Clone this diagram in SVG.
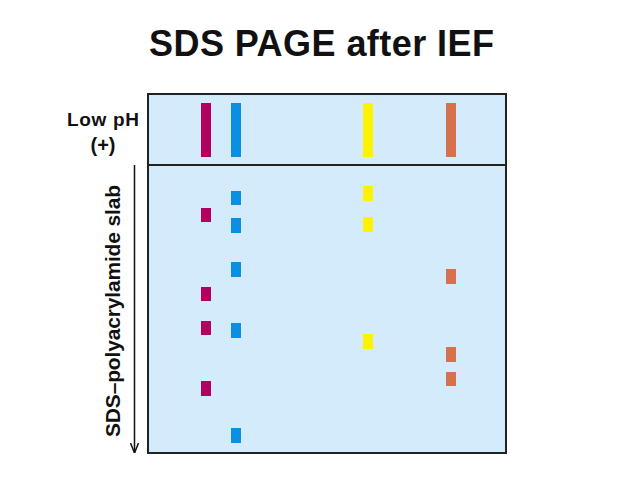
<svg xmlns="http://www.w3.org/2000/svg" width="638" height="479" viewBox="0 0 638 479">
<defs>
<style>
.t{font-family:"Liberation Sans",Arial,sans-serif;font-weight:bold;fill:#111}
.m{fill:#b1005e}
.b{fill:#0b8fe2}
.y{fill:#fff100}
.o{fill:#d8704f}
.frame{fill:#d3ebfb;stroke:#222;stroke-width:2}
</style>
<marker id="ah" viewBox="0 0 10 10" refX="10" refY="5" markerWidth="10" markerHeight="10" markerUnits="userSpaceOnUse" orient="auto">
<path d="M0,1 L10,5 L0,9" fill="none" stroke="#111" stroke-width="1.5"/>
</marker>
</defs>
<rect width="638" height="479" fill="#fff"/>
<g id="title">
<text class="t" x="321.5" y="56" font-size="36" text-anchor="middle" textLength="345">SDS PAGE after IEF</text>
</g>
<g id="gel">
<rect class="frame" x="148" y="94" width="358" height="359"/>
<line x1="148" y1="165" x2="506" y2="165" stroke="#222" stroke-width="2"/>
</g>
<g id="ief-strip">
<rect class="m" x="201" y="103" width="10" height="54"/>
<rect class="b" x="231" y="103" width="10" height="54"/>
<rect class="y" x="363" y="103" width="10" height="54"/>
<rect class="o" x="446" y="103" width="10" height="54"/>
</g>
<g id="bands-magenta">
<rect class="m" x="201" y="208" width="10" height="14"/>
<rect class="m" x="201" y="287" width="10" height="14"/>
<rect class="m" x="201" y="321" width="10" height="14"/>
<rect class="m" x="201" y="381" width="10" height="15"/>
</g>
<g id="bands-blue">
<rect class="b" x="231" y="191" width="10" height="14"/>
<rect class="b" x="231" y="218" width="10" height="15"/>
<rect class="b" x="231" y="262" width="10" height="15"/>
<rect class="b" x="231" y="323" width="10" height="15"/>
<rect class="b" x="231" y="428" width="10" height="15"/>
</g>
<g id="bands-yellow">
<rect class="y" x="363" y="186" width="10" height="15"/>
<rect class="y" x="363" y="217" width="10" height="15"/>
<rect class="y" x="363" y="334" width="10" height="15"/>
</g>
<g id="bands-orange">
<rect class="o" x="446" y="269" width="10" height="15"/>
<rect class="o" x="446" y="347" width="10" height="15"/>
<rect class="o" x="446" y="372" width="10" height="14"/>
</g>
<g id="label-lowph">
<text class="t" x="103" y="126" font-size="19" text-anchor="middle" textLength="72">Low pH</text>
<text class="t" x="103" y="152" font-size="20" text-anchor="middle">(+)</text>
</g>
<g id="label-slab">
<text class="t" transform="translate(120,437) rotate(-90)" x="0" y="0" font-size="21" textLength="252">SDS–polyacrylamide slab</text>
</g>
<g id="connectors">
<line x1="134.5" y1="165" x2="134.5" y2="453" stroke="#111" stroke-width="1.5" marker-end="url(#ah)"/>
</g>
</svg>
